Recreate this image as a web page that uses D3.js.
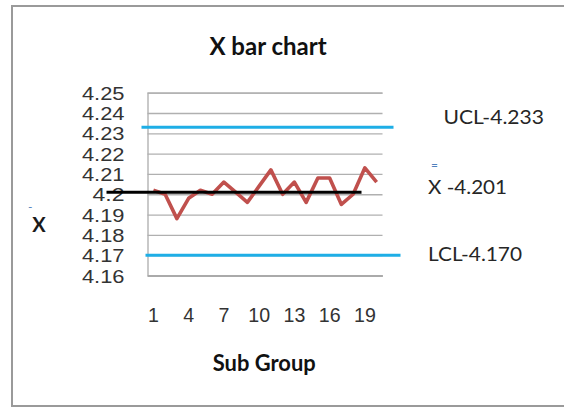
<!DOCTYPE html>
<html>
<head>
<meta charset="utf-8">
<script src="https://cdn.jsdelivr.net/npm/d3@7"></script>
<style>
  html, body { margin: 0; padding: 0; background: #fff; }
  svg { display: block; font-family: Lato, "Open Sans", sans-serif; }
</style>
</head>
<body>
<svg id="chart" width="564" height="407"></svg>
<script>
// Sub-group numbers and their sample means
const subGroups = d3.range(1, 21);
const xBarValues = [4.202, 4.200, 4.188, 4.198, 4.202, 4.200, 4.206, 4.201, 4.196, 4.204,
                    4.212, 4.200, 4.206, 4.196, 4.208, 4.208, 4.195, 4.200, 4.213, 4.206];

// Control limits
const limitNames = ["UCL", "X", "LCL"];
const limitValues = [4.233, 4.201, 4.170];

// Axis ticks
const yTicks = [4.16, 4.17, 4.18, 4.19, 4.20, 4.21, 4.22, 4.23, 4.24, 4.25];
const yTickLabels = ["4.16", "4.17", "4.18", "4.19", "4.2", "4.21", "4.22", "4.23", "4.24", "4.25"];
const xTickValues = [1, 4, 7, 10, 13, 16, 19];

const svg = d3.select("#chart");

// Outer frame
svg.append("rect")
  .attr("x", 12).attr("y", 6)
  .attr("width", 560).attr("height", 400)
  .attr("fill", "none")
  .attr("stroke", "#9a9a9a")
  .attr("stroke-width", 2);

const plot = { left: 147.5, right: 382.5, top: 92.7, bottom: 275.5 };

const x = d3.scaleBand()
  .domain(subGroups)
  .range([plot.left, plot.right]);

const y = d3.scaleLinear()
  .domain([4.16, 4.25])
  .range([plot.bottom, plot.top]);

// Horizontal gridlines with value labels (wide, tightly stacked numerals)
const yAxis = svg.append("g")
  .attr("transform", `translate(${plot.left},0)`)
  .call(d3.axisLeft(y)
    .tickValues(yTicks)
    .tickSize(-(plot.right - plot.left))
    .tickPadding(23)
    .tickFormat((d, i) => yTickLabels[i]));
yAxis.select(".domain").attr("stroke", "#a6a6a6").attr("stroke-width", 1.2);
yAxis.selectAll(".tick line").attr("stroke", "#b0b0b0").attr("stroke-width", 1.3);
yAxis.selectAll(".tick text")
  .attr("fill", "#333")
  .style("font-size", "18.5px")
  .attr("dy", "0.36em")
  .attr("lengthAdjust", "spacingAndGlyphs")
  .attr("textLength", function () { return this.textContent.length * 10.65; });

// Category axis
const xAxis = svg.append("g")
  .attr("transform", `translate(0,${plot.bottom})`)
  .call(d3.axisBottom(x)
    .tickValues(xTickValues)
    .tickSize(0)
    .tickSizeOuter(0)
    .tickPadding(32));
xAxis.select(".domain").attr("stroke", "#a6a6a6").attr("stroke-width", 1.3);
xAxis.selectAll(".tick text")
  .attr("fill", "#333")
  .style("font-size", "21px")
  .attr("lengthAdjust", "spacingAndGlyphs")
  .attr("textLength", function () { return this.textContent.length * 10.9; });

// Sample-mean line
const line = d3.line()
  .x((d, i) => x(subGroups[i]) + x.bandwidth() / 2)
  .y(d => y(d));

svg.append("path")
  .datum(xBarValues)
  .attr("d", line)
  .attr("fill", "none")
  .attr("stroke", "#c0504d")
  .attr("stroke-width", 3.6)
  .attr("stroke-linejoin", "round");

// Control limit lines
const limitStyles = {
  UCL: { color: "#1eaee6", x0: plot.left - 6, x1: plot.right + 11 },
  X:   { color: "#000000", x0: plot.left - 41, x1: plot.right - 21 },
  LCL: { color: "#1eaee6", x0: plot.left - 2, x1: plot.right + 18 }
};
limitNames.forEach((name, i) => {
  const s = limitStyles[name];
  svg.append("line")
    .attr("x1", s.x0).attr("x2", s.x1)
    .attr("y1", y(limitValues[i])).attr("y2", y(limitValues[i]))
    .attr("stroke", s.color)
    .attr("stroke-width", 3);
});

// Limit labels on the right
function limitLabel(xPos, yPos, width, str) {
  svg.append("text")
    .attr("x", xPos).attr("y", yPos)
    .attr("fill", "#262626").style("font-size", "20px")
    .attr("lengthAdjust", "spacingAndGlyphs")
    .attr("textLength", width)
    .text(str);
}
limitLabel(443.5, 124.3, 100.5, `UCL-${limitValues[0].toFixed(3)}`);
limitLabel(428, 194, 79, `X -${limitValues[1].toFixed(3)}`);
limitLabel(428, 260.7, 94, `LCL-${limitValues[2].toFixed(3)}`);

svg.append("text")
  .attr("x", 431).attr("y", 169)
  .attr("fill", "#4f81bd").style("font-size", "12px")
  .text("=");

// Left-side X-bar marker
svg.append("text")
  .attr("x", 39).attr("y", 231.5)
  .attr("text-anchor", "middle")
  .attr("fill", "#1a1a1a").style("font-size", "20px").style("font-weight", "bold")
  .text("X");
svg.append("text")
  .attr("x", 28).attr("y", 211)
  .attr("fill", "#4f81bd").style("font-size", "12px")
  .text("-");

// Title and axis title
svg.append("text")
  .attr("x", 268).attr("y", 55)
  .attr("text-anchor", "middle")
  .attr("fill", "#111").style("font-size", "24px").style("font-weight", "bold")
  .text("X bar chart");

svg.append("text")
  .attr("x", 264.3).attr("y", 371)
  .attr("text-anchor", "middle")
  .attr("fill", "#111").style("font-size", "22px").style("font-weight", "bold")
  .attr("lengthAdjust", "spacingAndGlyphs")
  .attr("textLength", 103)
  .text("Sub Group");
</script>
</body>
</html>
